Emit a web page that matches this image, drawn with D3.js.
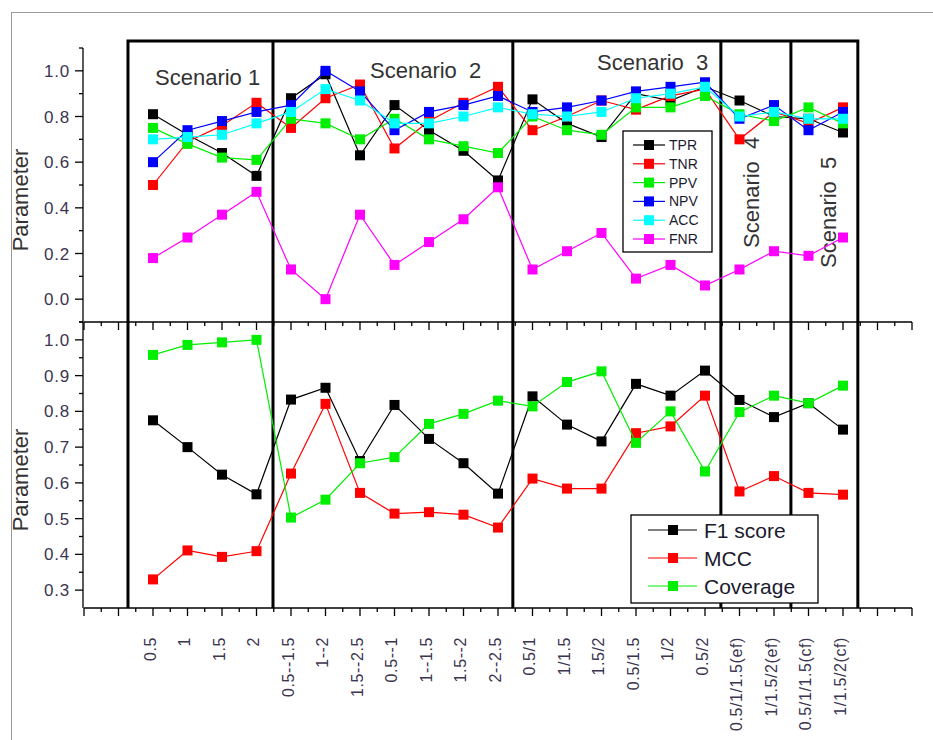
<!DOCTYPE html>
<html><head><meta charset="utf-8">
<script src="https://cdn.jsdelivr.net/npm/d3@7"></script>
<style>body{margin:0;background:#fff}svg{display:block}text{font-family:Arial,"Liberation Sans",sans-serif}</style>
</head><body>
<script>
const categories = ["0.5","1","1.5","2","0.5--1.5","1--2","1.5--2.5","0.5--1","1--1.5","1.5--2","2--2.5","0.5/1","1/1.5","1.5/2","0.5/1.5","1/2","0.5/2","0.5/1/1.5(ef)","1/1.5/2(ef)","0.5/1/1.5(cf)","1/1.5/2(cf)"];
const TPR = [0.81,0.72,0.64,0.54,0.88,0.985,0.63,0.85,0.74,0.65,0.52,0.875,0.77,0.71,0.90,0.87,0.93,0.87,0.80,0.79,0.73];
const TNR = [0.50,0.69,0.76,0.86,0.75,0.88,0.94,0.66,0.78,0.86,0.93,0.74,0.80,0.87,0.83,0.89,0.92,0.70,0.82,0.77,0.84];
const PPV = [0.75,0.68,0.62,0.61,0.79,0.77,0.70,0.79,0.70,0.67,0.64,0.80,0.74,0.72,0.84,0.84,0.89,0.81,0.78,0.84,0.77];
const NPV = [0.60,0.74,0.78,0.82,0.85,1.00,0.91,0.74,0.82,0.85,0.89,0.82,0.84,0.87,0.91,0.93,0.95,0.79,0.85,0.74,0.82];
const ACC = [0.70,0.71,0.72,0.77,0.82,0.92,0.87,0.77,0.77,0.80,0.84,0.81,0.80,0.82,0.88,0.90,0.93,0.80,0.82,0.79,0.79];
const FNR = [0.18,0.27,0.37,0.47,0.13,0.00,0.37,0.15,0.25,0.35,0.49,0.13,0.21,0.29,0.09,0.15,0.06,0.13,0.21,0.19,0.27];
const F1 = [0.775,0.70,0.623,0.568,0.833,0.866,0.661,0.818,0.723,0.655,0.57,0.842,0.763,0.716,0.877,0.844,0.914,0.832,0.784,0.823,0.749];
const MCC = [0.33,0.411,0.393,0.409,0.626,0.821,0.572,0.514,0.518,0.511,0.475,0.612,0.584,0.584,0.739,0.758,0.844,0.576,0.619,0.572,0.567];
const Coverage = [0.958,0.986,0.993,1.0,0.503,0.553,0.655,0.672,0.765,0.793,0.83,0.814,0.882,0.912,0.712,0.80,0.632,0.798,0.844,0.823,0.872];
const topSeriesNames = ["TPR","TNR","PPV","NPV","ACC","FNR"];
const bottomSeriesNames = ["F1 score","MCC","Coverage"];
const scenarioBounds = [-0.725,3.478,10.43,16.46,18.49,20.43];
const scenarioLabels = ["Scenario 1","Scenario\u00a0\u00a02","Scenario\u00a0\u00a03","Scenario\u00a0\u00a04","Scenario\u00a0\u00a05"];
const topTicks = [0.0,0.2,0.4,0.6,0.8,1.0];
const bottomTicks = [0.3,0.4,0.5,0.6,0.7,0.8,0.9,1.0];

const W=933,H=740;
const svg=d3.select("body").append("svg").attr("width",W).attr("height",H);
svg.append("rect").attr("x",11.5).attr("y",12.5).attr("width",960).attr("height",760).attr("fill","none").attr("stroke","#999").attr("stroke-width",1);

const x=d3.scaleLinear().domain([-2,22]).range([84,912]);
const yT=d3.scaleLinear().domain([-0.1,1.1]).range([322,48]);
const yB=d3.scaleLinear().domain([0.25,1.05]).range([608,322]);
const tickColor="#3b3550";

// scenario boxes
const boxTop=41, boxBot=608;
svg.append("path").attr("fill","none").attr("stroke","#000").attr("stroke-width",3)
  .attr("d",`M${x(scenarioBounds[0])},${boxBot}V${boxTop}H${x(scenarioBounds[5])}V${boxBot}`);
scenarioBounds.slice(1,5).forEach(b=>{
  svg.append("line").attr("x1",x(b)).attr("x2",x(b)).attr("y1",boxTop).attr("y2",boxBot).attr("stroke","#000").attr("stroke-width",3);
});

// x axes (middle and bottom) with ticks down
const xMajor=d3.range(-2,23), xMinor=d3.range(-1.5,22,1);
[322,608].forEach(yy=>{
  const g=svg.append("g").attr("stroke","#000").attr("stroke-width",1.3);
  g.append("line").attr("x1",x(-2)).attr("x2",x(22)).attr("y1",yy).attr("y2",yy);
  xMajor.forEach(v=>g.append("line").attr("x1",x(v)).attr("x2",x(v)).attr("y1",yy).attr("y2",yy+8));
  xMinor.forEach(v=>g.append("line").attr("x1",x(v)).attr("x2",x(v)).attr("y1",yy).attr("y2",yy+4));
});
// x tick labels
svg.append("g").selectAll("text").data(categories).join("text")
  .attr("transform",(d,i)=>`translate(${x(i)-3},637) rotate(-90)`)
  .attr("text-anchor","end").attr("dy","0.35em").attr("font-size",16).attr("letter-spacing","0.6px")
  .attr("fill",tickColor).text(d=>d);

// y axes
function yAxis(scale,major,minor,fmt){
  const g=svg.append("g");
  const [r0,r1]=scale.range();
  g.append("line").attr("x1",83).attr("x2",83).attr("y1",r0).attr("y2",r1).attr("stroke","#000").attr("stroke-width",1.3);
  major.forEach(v=>g.append("line").attr("x1",75).attr("x2",83).attr("y1",scale(v)).attr("y2",scale(v)).attr("stroke","#000").attr("stroke-width",1.3));
  minor.forEach(v=>g.append("line").attr("x1",79).attr("x2",83).attr("y1",scale(v)).attr("y2",scale(v)).attr("stroke","#000").attr("stroke-width",1.3));
  g.selectAll("text").data(major).join("text").attr("x",70).attr("y",d=>scale(d)).attr("dy","0.36em")
    .attr("text-anchor","end").attr("font-size",17).attr("letter-spacing","0.8px").attr("fill",tickColor).text(d=>d3.format(fmt)(d));
}
yAxis(yT,topTicks,[-0.1,0.1,0.3,0.5,0.7,0.9,1.1],".1f");
yAxis(yB,bottomTicks,[0.35,0.45,0.55,0.65,0.75,0.85,0.95,1.05],".1f");

// axis titles
[200,480].forEach(cy=>{
  svg.append("text").attr("transform",`translate(28,${cy}) rotate(-90)`).attr("text-anchor","middle")
    .attr("font-size",22).attr("fill","#333").text("Parameter");
});

// scenario labels
const sl=svg.append("g").attr("font-size",22).attr("fill","#333");
sl.append("text").attr("x",155).attr("y",85).text(scenarioLabels[0]);
sl.append("text").attr("x",370).attr("y",78).text(scenarioLabels[1]);
sl.append("text").attr("x",597).attr("y",70).text(scenarioLabels[2]);
sl.append("text").attr("transform","translate(759,248) rotate(-90)").text(scenarioLabels[3]);
sl.append("text").attr("transform","translate(836,268) rotate(-90)").text(scenarioLabels[4]);

// series
const line=(scale)=>d3.line().x((d,i)=>x(i)).y(d=>scale(d));
function drawSeries(data,scale,color,ms){
  svg.append("path").datum(data).attr("d",line(scale)).attr("fill","none").attr("stroke",color).attr("stroke-width",1.2);
  svg.append("g").selectAll("rect").data(data).join("rect")
    .attr("x",(d,i)=>x(i)-ms/2).attr("y",d=>scale(d)-ms/2).attr("width",ms).attr("height",ms).attr("fill",color);
}
const topData=[TPR,TNR,PPV,NPV,ACC,FNR];
const topColors=["#000000","#ff0000","#00ee00","#0000ff","#00ffff","#ff00ff"];
topData.forEach((s,k)=>drawSeries(s,yT,topColors[k],10));
const botData=[F1,MCC,Coverage];
const botColors=["#000000","#ff0000","#00ee00"];
botData.forEach((s,k)=>drawSeries(s,yB,botColors[k],10));

// top legend
const lg=svg.append("g");
lg.append("rect").attr("x",623).attr("y",131).attr("width",89).attr("height",121).attr("fill","#fff").attr("stroke","#000").attr("stroke-width",1.3);
topSeriesNames.forEach((n,k)=>{
  const yy=145+k*18.8;
  lg.append("line").attr("x1",633).attr("x2",665).attr("y1",yy).attr("y2",yy).attr("stroke",topColors[k]).attr("stroke-width",1.2);
  lg.append("rect").attr("x",644).attr("y",yy-5).attr("width",10).attr("height",10).attr("fill",topColors[k]);
  lg.append("text").attr("x",669).attr("y",yy).attr("dy","0.36em").attr("font-size",14).attr("fill","#1a1a2e").text(n);
});
// bottom legend
const lb=svg.append("g");
lb.append("rect").attr("x",631).attr("y",515).attr("width",187).attr("height",88).attr("fill","#fff").attr("stroke","#000").attr("stroke-width",1.3);
bottomSeriesNames.forEach((n,k)=>{
  const yy=530+k*28;
  lb.append("line").attr("x1",648).attr("x2",697).attr("y1",yy).attr("y2",yy).attr("stroke",botColors[k]).attr("stroke-width",1.2);
  lb.append("rect").attr("x",668).attr("y",yy-5).attr("width",10).attr("height",10).attr("fill",botColors[k]);
  lb.append("text").attr("x",704).attr("y",yy).attr("dy","0.36em").attr("font-size",21).attr("fill","#1a1a2e").text(n);
});
</script>
</body></html>
